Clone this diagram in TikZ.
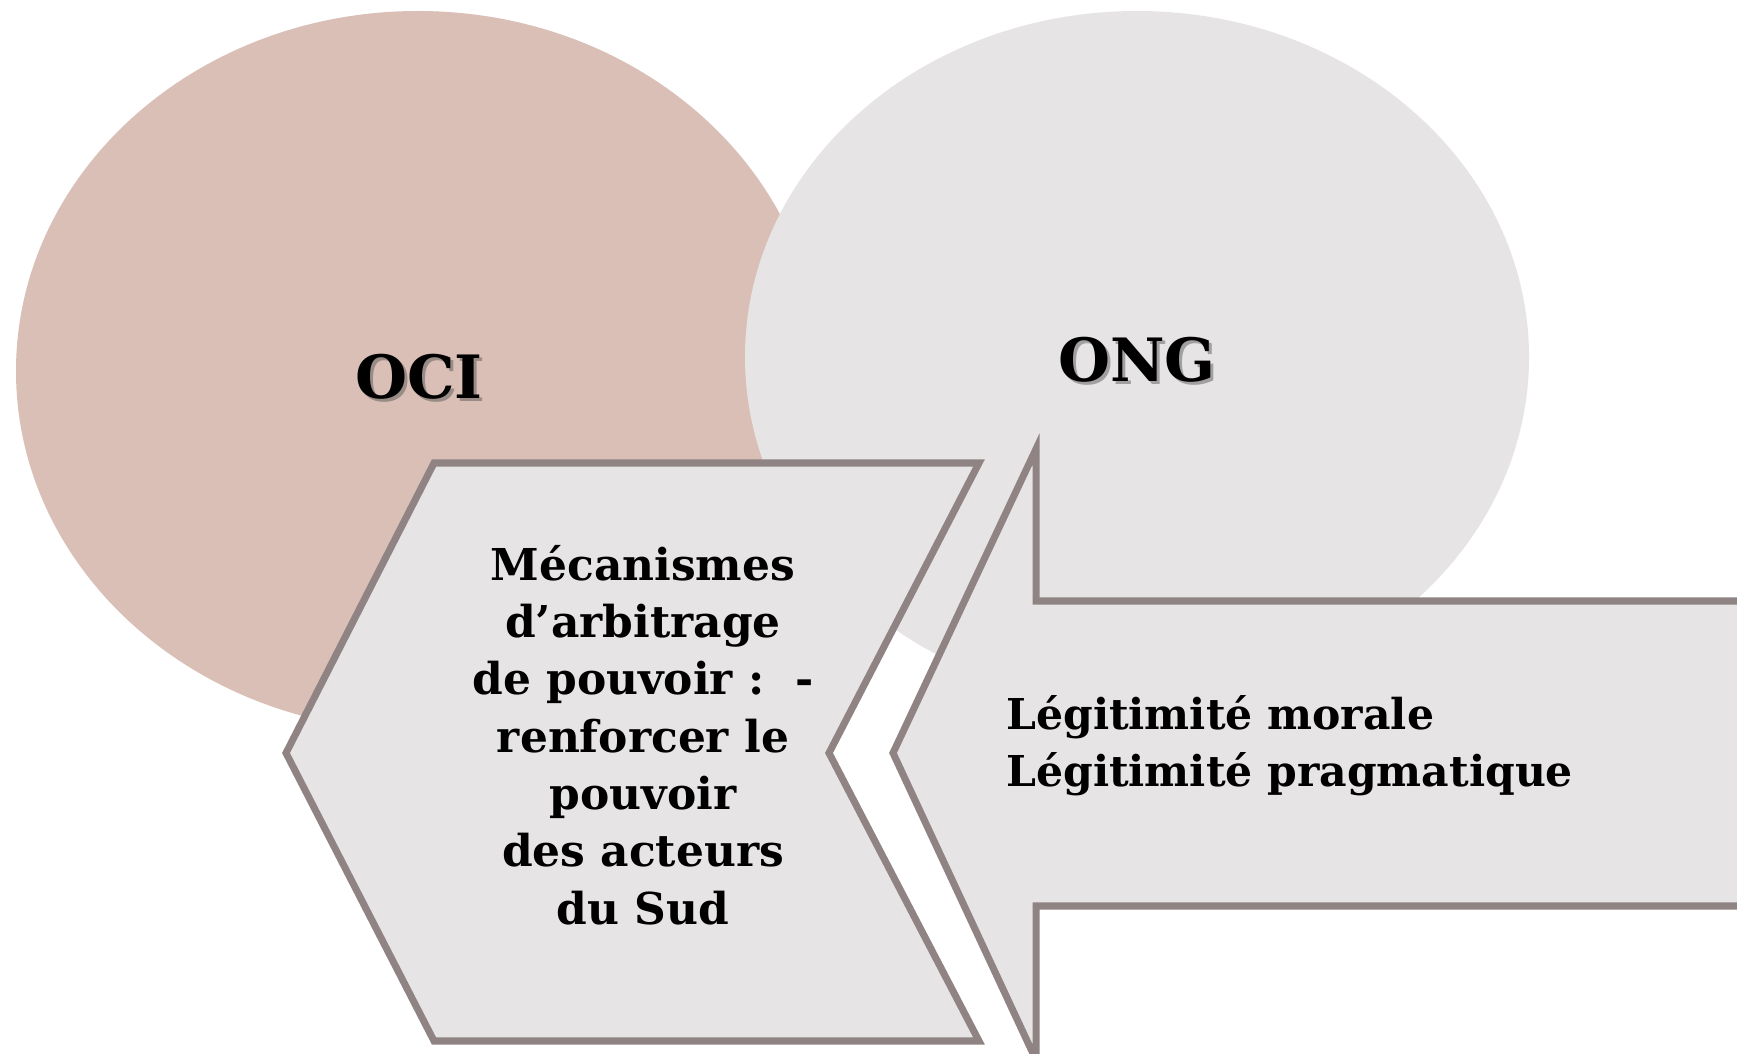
\documentclass[tikz,border=0pt]{standalone}
\usepackage{fontspec}
\setmainfont{DejaVu Serif}
\definecolor{ocifill}{HTML}{D9BFB6}
\definecolor{ngofill}{HTML}{E7E4E5}
\definecolor{edge}{HTML}{8F8483}
\tikzset{
  bubbleA/.style={fill=ocifill, draw=none},
  bubbleB/.style={fill=ngofill, draw=none},
  panel/.style={fill=ngofill, draw=edge, line width=4pt, line join=miter},
  title/.style={font=\fontsize{34}{40}\selectfont\bfseries, text=black, inner sep=0pt},
  titleshadow/.style={font=\fontsize{34}{40}\selectfont\bfseries, text=black!70, opacity=0.45, inner sep=0pt},
  body/.style={font=\fontsize{25}{32.6}\selectfont\bfseries, text=black, inner sep=0pt},
  bodyR/.style={font=\fontsize{24.2}{32.6}\selectfont\bfseries, text=black, inner sep=0pt}
}
\begin{document}
\begin{tikzpicture}[x=0.02cm, y=-0.02cm]
\useasboundingbox (0,0) rectangle (1737,1054);
\clip (0,0) rectangle (1737,1054);
\fill[white] (0,0) rectangle (1737,1054);
% circles
\fill[bubbleA] (418,371) ellipse [x radius=402, y radius=360];
\fill[bubbleB] (1137,357) ellipse [x radius=392, y radius=346];
% left chevron
\draw[panel] (434,463) -- (979,463) -- (829,753) -- (979,1041) -- (434,1041) -- (286,753) -- cycle;
% right arrow
\draw[panel] (893,753) -- (1036,449) -- (1036,601) -- (1770,601) -- (1770,906) -- (1036,906) -- (1036,1060) -- cycle;
% titles
\node[titleshadow] (ociS) at (422,380) {OCI};
\node[title] (oci) at (419,377) {OCI};
\node[titleshadow] (ongS) at (1140,363) {ONG};
\node[title] (ong) at (1137,360) {ONG};
% texts
\node[body, align=center] (mec) at (643,735) {Mécanismes\\ d’arbitrage\\de pouvoir :\ \ -\\renforcer le\\ pouvoir\\des acteurs\\ du Sud};
\node[bodyR, align=left, anchor=west] (leg) at (1006,746) {Légitimité morale\\Légitimité pragmatique};
\end{tikzpicture}
\end{document}
